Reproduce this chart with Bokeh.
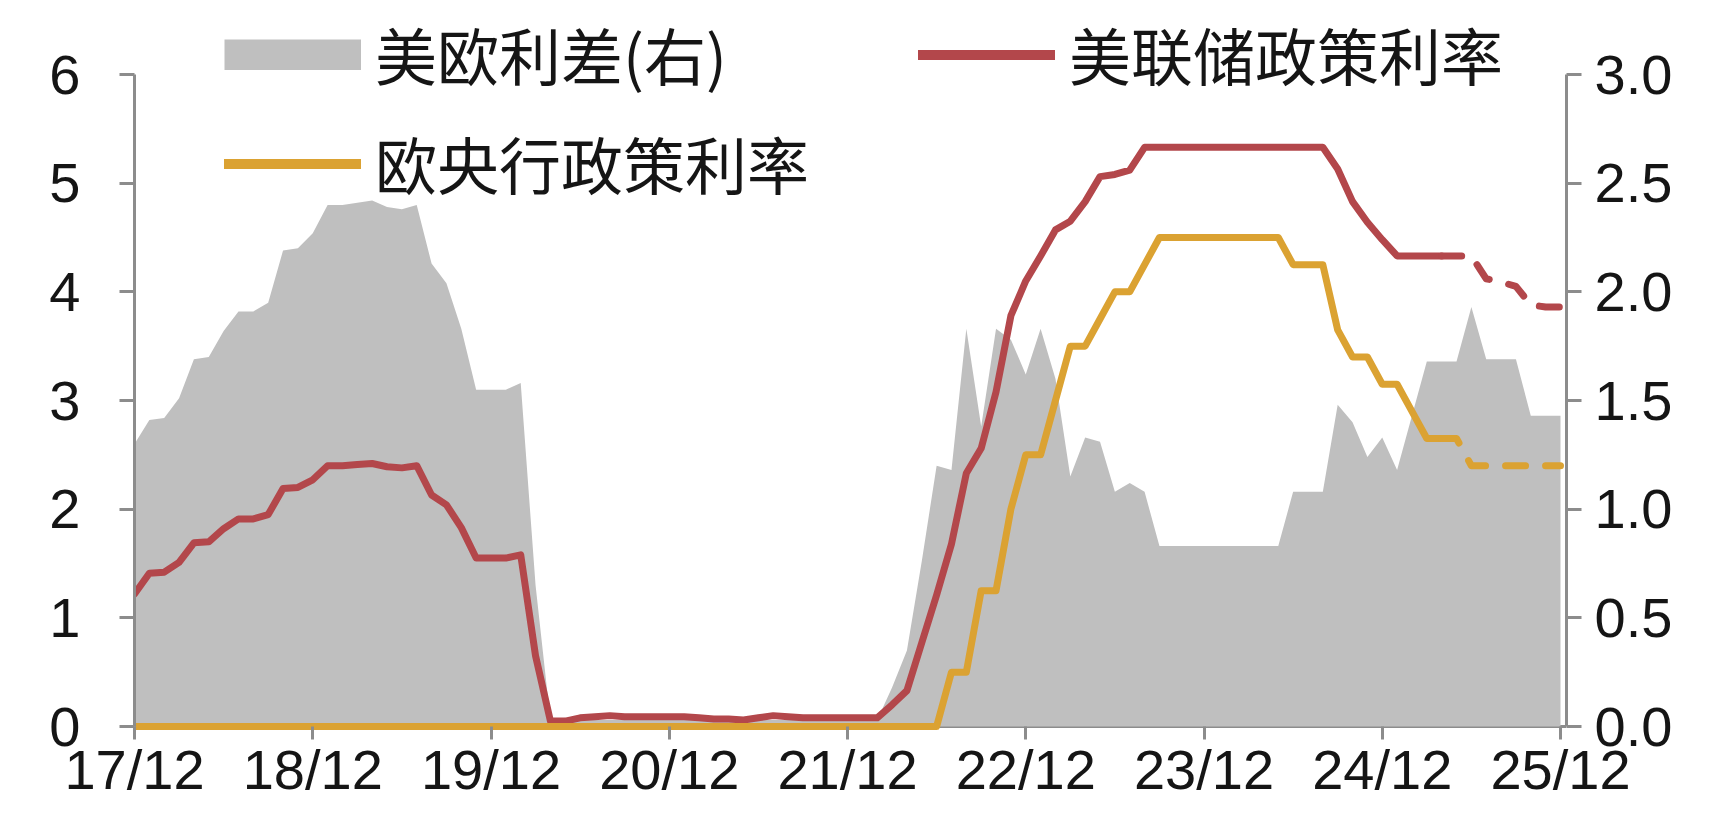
from bokeh.plotting import figure
from bokeh.models import Range1d, LinearAxis, FixedTicker, Legend, LegendItem, Span
from bokeh.embed import file_html
from bokeh.resources import INLINE

# ---------------- data (monthly, Dec 2017 .. Dec 2025) ----------------
x_tick_labels = ["17/12", "18/12", "19/12", "20/12", "21/12", "22/12", "23/12", "24/12", "25/12"]

fed_rate = [
    1.22, 1.41, 1.42, 1.51, 1.69, 1.70, 1.82, 1.91, 1.91, 1.95, 2.19, 2.20, 2.27,
    2.40, 2.40, 2.41, 2.42, 2.39, 2.38, 2.40, 2.13, 2.04, 1.83, 1.55, 1.55, 1.55, 1.58,
    0.65,
    0.05, 0.05, 0.08, 0.09, 0.10, 0.09, 0.09, 0.09, 0.09, 0.09, 0.08, 0.07, 0.07, 0.06,
    0.08, 0.10, 0.09, 0.08, 0.08, 0.08, 0.08, 0.08, 0.08,
    0.20, 0.33, 0.77, 1.21, 1.68, 2.33, 2.56, 3.08, 3.78, 4.10, 4.33, 4.57, 4.65, 4.83,
    5.06, 5.08, 5.12, 5.33,
    5.33, 5.33, 5.33, 5.33, 5.33, 5.33, 5.33, 5.33, 5.33, 5.33, 5.33, 5.33,
    5.13, 4.83, 4.64, 4.48, 4.33, 4.33, 4.33, 4.33, 4.33, 4.33, 4.12, 4.09, 4.05, 3.88,
    3.86, 3.86,
]

ecb_rate = [0.0] * 55 + [
    0.50, 0.50, 1.25, 1.25, 2.00, 2.50, 2.50, 3.00, 3.50, 3.50, 3.75, 4.00, 4.00, 4.25,
    4.50, 4.50, 4.50, 4.50, 4.50, 4.50, 4.50, 4.50, 4.50,
    4.25, 4.25, 4.25, 3.65, 3.40, 3.40, 3.15, 3.15, 2.90, 2.65, 2.65, 2.65, 2.40, 2.40,
    2.40, 2.40, 2.40, 2.40, 2.40,
]

us_eu_spread = [
    1.30, 1.41, 1.42, 1.51, 1.69, 1.70, 1.82, 1.91, 1.91, 1.95, 2.19, 2.20, 2.27,
    2.40, 2.40, 2.41, 2.42, 2.39, 2.38, 2.40, 2.13, 2.04, 1.83, 1.55, 1.55, 1.55, 1.58,
    0.65,
    0.03, 0.03, 0.03, 0.03, 0.03, 0.03, 0.03, 0.03, 0.03, 0.03, 0.03, 0.03, 0.03, 0.03,
    0.03, 0.03, 0.03, 0.03, 0.03, 0.03, 0.03, 0.03, 0.03,
    0.18, 0.35, 0.76, 1.20,
    1.18, 1.83, 1.38, 1.83, 1.78, 1.62, 1.83, 1.60, 1.15, 1.33, 1.31, 1.08, 1.12, 1.08,
    0.83, 0.83, 0.83, 0.83, 0.83, 0.83, 0.83, 0.83, 0.83,
    1.08, 1.08, 1.08, 1.48, 1.40, 1.24, 1.33, 1.18, 1.43, 1.68, 1.68, 1.68, 1.93, 1.69,
    1.69, 1.69, 1.43, 1.43, 1.43,
]

months = list(range(len(fed_rate)))
forecast_start = 88  # first month drawn dashed

RED = "#B3474B"
GOLD = "#DBA232"
GREY = "#BFBFBF"
AXIS = "#8C8C8C"

# layout (pixels)
FRAME_TOP = 5      # frame extends up so the legend is not clipped
Y0_PX = 726        # pixel row of value 0
YMAX_PX = 74       # pixel row of top tick (6 / 3.0)
BOTTOM_PAD = 8     # frame extends a little below 0 so lines at 0 are not clipped
LEFT_PX = 134
RIGHT_PX = 1566
LAST_TICK_PX = 1560

unit = (Y0_PX - YMAX_PX) / 6.0
y_end = (Y0_PX - FRAME_TOP) / unit
y_start = -BOTTOM_PAD / unit
x_end = 96 * (RIGHT_PX - LEFT_PX) / (LAST_TICK_PX - LEFT_PX)

p = figure(width=1725, height=831, output_backend="svg", toolbar_location=None,
           x_range=Range1d(0, x_end), y_range=Range1d(y_start, y_end),
           min_border_left=LEFT_PX, min_border_right=1725 - RIGHT_PX,
           min_border_top=FRAME_TOP, min_border_bottom=831 - Y0_PX - BOTTOM_PAD)
p.extra_y_ranges = {"right": Range1d(y_start / 2, y_end / 2)}
p.outline_line_color = None
p.xgrid.visible = False
p.ygrid.visible = False
p.background_fill_color = "white"
p.border_fill_color = "white"

# x-axis base line at value 0 (under the series)
p.add_layout(Span(location=0, dimension="width", line_color=AXIS, line_width=3, level="underlay"))

p.varea(x=months, y1=[0] * len(months), y2=us_eu_spread, y_range_name="right",
        fill_color=GREY, fill_alpha=1)

fs = forecast_start
p.line(months[:fs + 1], fed_rate[:fs + 1], line_width=7, line_color=RED, line_join="round", line_cap="round")
p.line(months[fs:], fed_rate[fs:], line_width=7, line_color=RED, line_dash="20 20", line_join="round", line_cap="round")
p.line(months[:fs + 1], ecb_rate[:fs + 1], line_width=7, line_color=GOLD, line_join="round", line_cap="round")
p.line(months[fs:], ecb_rate[fs:], line_width=7, line_color=GOLD, line_dash="20 20", line_join="round", line_cap="round")

# legend-only renderers (nothing drawn in the plot)
nan = float("nan")
spread_leg = p.line(x=[0, 1], y=[nan, nan], line_width=31, line_color=GREY, line_cap="butt")
fed_leg = p.line(x=[0, 1], y=[nan, nan], line_width=10, line_color=RED, line_cap="round")
ecb_leg = p.line(x=[0, 1], y=[nan, nan], line_width=10, line_color=GOLD, line_cap="round")

legend = Legend(items=[
    LegendItem(label="美欧利差(右)", renderers=[spread_leg]),
    LegendItem(label="美联储政策利率", renderers=[fed_leg]),
    LegendItem(label="欧央行政策利率", renderers=[ecb_leg]),
], location=(90, 518 + BOTTOM_PAD), orientation="horizontal", ncols=2,
    glyph_width=137, glyph_height=31, label_standoff=14, label_width=524, label_height=90,
    spacing=19, padding=0, margin=0, border_line_color=None, background_fill_alpha=0,
    label_text_font="Noto Sans CJK SC", label_text_font_size="62px", label_text_color="#151515")
p.add_layout(legend)

# axes
xa = p.xaxis[0]
xa.ticker = FixedTicker(ticks=[12 * i for i in range(len(x_tick_labels))])
xa.major_label_overrides = {12 * i: lab for i, lab in enumerate(x_tick_labels)}
xa.axis_line_color = None
xa.major_tick_in = BOTTOM_PAD
xa.major_tick_out = 5
xa.major_label_standoff = -2

ya = p.yaxis[0]
ya.ticker = FixedTicker(ticks=[0, 1, 2, 3, 4, 5, 6])
ya.bounds = (0, 6)
ya.major_tick_in = 0
ya.major_tick_out = 15
ya.major_label_standoff = 39
ya.axis_line_color = AXIS

ra = LinearAxis(y_range_name="right", ticker=FixedTicker(ticks=[0, 0.5, 1.0, 1.5, 2.0, 2.5, 3.0]))
ra.bounds = (0, 3)
ra.major_label_overrides = {v: f"{v:.1f}" for v in [0, 0.5, 1.0, 1.5, 2.0, 2.5, 3.0]}
ra.major_tick_in = 0
ra.major_tick_out = 15
ra.major_label_standoff = 13
ra.axis_line_color = AXIS
p.add_layout(ra, "right")

for ax in (xa, ya, ra):
    ax.axis_line_width = 3
    ax.major_tick_line_color = AXIS
    ax.major_tick_line_width = 3
    ax.minor_tick_line_color = None
    ax.major_label_text_font = "Liberation Sans"
    ax.major_label_text_font_size = "56px"
    ax.major_label_text_color = "#151515"

open("out.html", "w").write(file_html(p, INLINE))
